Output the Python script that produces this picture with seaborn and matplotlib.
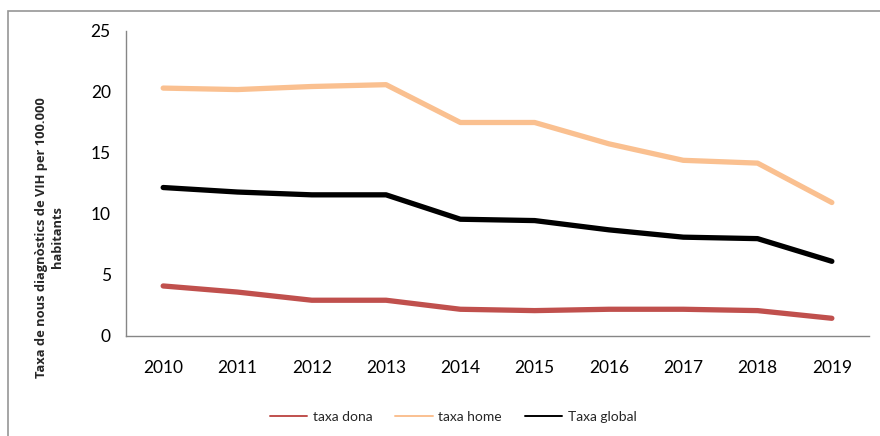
import pandas as pd
import matplotlib.pyplot as plt
import seaborn as sns
from matplotlib.patches import Rectangle

# Data
years = [2010, 2011, 2012, 2013, 2014, 2015, 2016, 2017, 2018, 2019]
taxa_dona = [4.1, 3.6, 2.93, 2.93, 2.19, 2.08, 2.19, 2.19, 2.08, 1.45]
taxa_home = [20.32, 20.2, 20.45, 20.6, 17.5, 17.5, 15.75, 14.4, 14.17, 10.94]
taxa_global = [12.17, 11.8, 11.57, 11.57, 9.57, 9.46, 8.7, 8.1, 7.98, 6.12]
series_names = ['taxa dona', 'taxa home', 'Taxa global']
colors = ['#C0504D', '#FAC090', '#000000']

# long format for seaborn
df = pd.DataFrame({
    'year': years * 3,
    'value': taxa_dona + taxa_home + taxa_global,
    'serie': [series_names[0]] * 10 + [series_names[1]] * 10 + [series_names[2]] * 10,
})

sns.set_style('white')
plt.rcParams['font.family'] = ['Lato', 'DejaVu Sans']

fig = plt.figure(figsize=(8.8, 4.36), dpi=100)
ax = fig.add_axes([0.1432, 0.2294, 0.9875 - 0.1432, 0.9289 - 0.2294])

sns.lineplot(data=df, x='year', y='value', hue='serie', hue_order=series_names,
             palette=colors, linewidth=3.8, ax=ax, legend=False)

ax.set_xlim(2009.5, 2019.5)
ax.set_ylim(0, 25)
ax.set_xticks(years)
ax.set_xticklabels([str(y) for y in years])
ax.set_xticks([2019.5], minor=True)
ax.set_yticks([0, 5, 10, 15, 20, 25])
ax.set_xlabel('')
ax.set_ylabel('')

for s in ['top', 'right']:
    ax.spines[s].set_visible(False)
for s in ['left', 'bottom']:
    ax.spines[s].set_color('#868686')
    ax.spines[s].set_linewidth(1.0)
ax.tick_params(axis='both', which='both', direction='out', length=5, width=1.0,
               color='#868686', labelsize=12.5, labelcolor='black')
ax.tick_params(axis='x', pad=12)
ax.tick_params(axis='y', pad=6)
ax.grid(False)

# y label (two lines, bold)
fig.text(0.056, 0.456, 'Taxa de nous diagnòstics de VIH per 100.000\nhabitants',
         rotation=90, ha='center', va='center', fontsize=9.3, fontweight='bold',
         family=['Open Sans', 'DejaVu Sans'], multialignment='center',
         linespacing=1.3)

# legend
handles = [plt.Line2D([], [], color=c, linewidth=1.4) for c in colors]
fig.legend(handles, series_names, loc='center', bbox_to_anchor=(0.515, 0.044),
           ncol=3, frameon=False, fontsize=10, handlelength=2.7,
           columnspacing=1.65, handletextpad=0.4)

# chart border
fig.patches.append(Rectangle((7.5 / 880, -0.1), 1.2, 1 - 10.5 / 436 + 0.1,
                             transform=fig.transFigure, fill=False,
                             edgecolor='#969696', linewidth=1.2, clip_on=False))

fig.savefig('out.png', dpi=100)
